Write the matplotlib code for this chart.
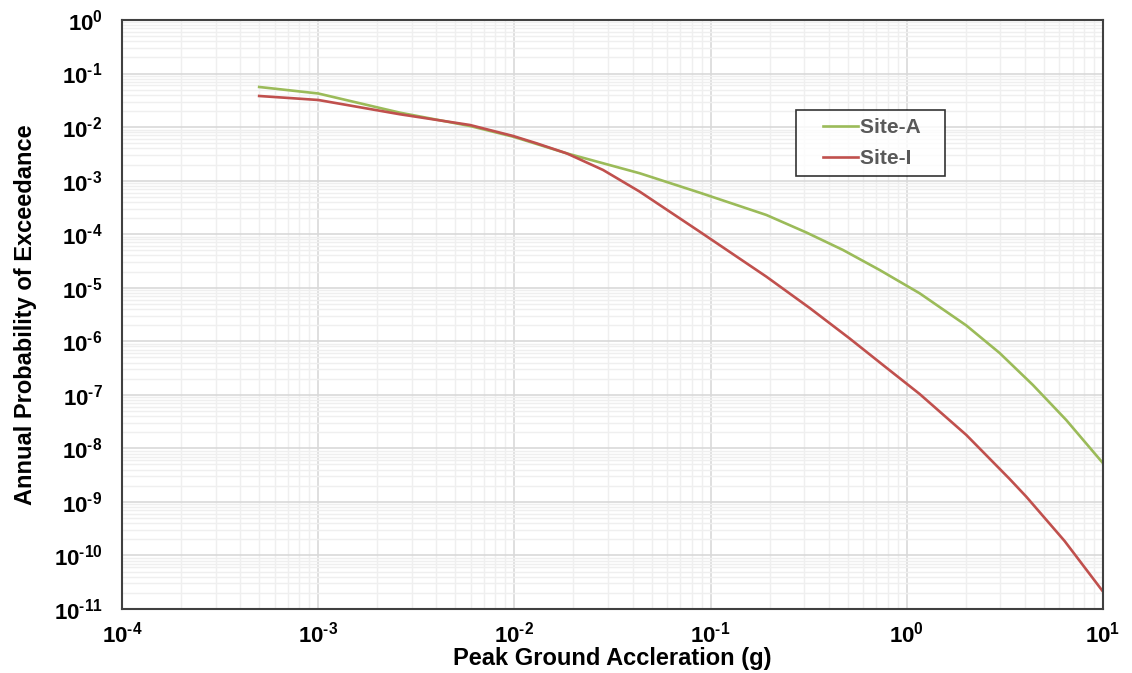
import matplotlib
matplotlib.use('Agg')
import matplotlib.pyplot as plt
from matplotlib.lines import Line2D
from matplotlib.legend_handler import HandlerLine2D
from matplotlib.ticker import LogLocator, FixedLocator

plt.rcParams['font.family'] = ['Liberation Sans', 'DejaVu Sans']
plt.rcParams['font.weight'] = 'bold'
plt.rcParams['mathtext.fontset'] = 'custom'
plt.rcParams['mathtext.rm'] = 'Liberation Sans:bold'
plt.rcParams['mathtext.default'] = 'rm'

# values
pga_a = [5e-4, 1e-3, 2.61e-3, 5.93e-3, 9.85e-3, 0.01842, 0.04353, 0.088,
         0.1924, 0.3076, 0.4726, 0.7265, 1.162, 2.01, 2.97, 4.39, 6.49, 10.0]
site_a = [0.05609, 0.0424, 0.01857, 0.01048, 0.006617, 0.003241, 0.001372,
          5.957e-4, 2.283e-4, 1.075e-4, 5.07e-5, 2.146e-5, 7.876e-6, 1.973e-6,
          6.05e-7, 1.527e-7, 3.39e-8, 5.27e-9]

pga_i = [5e-4, 1e-3, 2.61e-3, 5.93e-3, 9.85e-3, 0.01296, 0.01842, 0.0283,
         0.04353, 0.088, 0.1924, 0.3197, 0.5111, 0.7863, 1.162, 2.01, 3.341,
         4.062, 6.366, 10.0]
site_i = [0.03808, 0.03207, 0.01734, 0.01094, 0.006821, 0.004982, 0.003241,
          0.001581, 6.218e-4, 1.113e-4, 1.608e-5, 4.185e-6, 1.128e-6, 3.213e-7,
          1.037e-7, 1.779e-8, 2.683e-9, 1.253e-9, 1.866e-10, 2.11e-11]

x_exp = [-4, -3, -2, -1, 0, 1]
y_exp = [0, -1, -2, -3, -4, -5, -6, -7, -8, -9, -10, -11]


def exp_label(e):
    # hyphen instead of the math minus sign, like the original
    s = str(e).replace('-', '\u2010')
    return f'$10^{{{s}}}$'


fig = plt.figure(figsize=(11.32, 6.73), dpi=100)
ax = fig.add_axes([0.1078, 0.0951, 0.8666, 0.8752])

ax.plot(pga_a, site_a, color='#9bbb59', lw=1.9, label='Site-A')
ax.plot(pga_i, site_i, color='#c0504d', lw=1.9, label='Site-I')

ax.set_xscale('log')
ax.set_yscale('log')
ax.set_xlim(1e-4, 1e1)
ax.set_ylim(1e-11, 1e0)

ax.xaxis.set_major_locator(FixedLocator([10.0 ** e for e in x_exp]))
ax.yaxis.set_major_locator(FixedLocator([10.0 ** e for e in y_exp]))
ax.set_xticklabels([exp_label(e) for e in x_exp])
ax.set_yticklabels([exp_label(e) for e in y_exp])
ax.xaxis.set_minor_locator(LogLocator(base=10, subs=range(2, 10), numticks=50))
ax.yaxis.set_minor_locator(LogLocator(base=10, subs=range(2, 10), numticks=50))

ax.tick_params(which='both', length=0)
ax.tick_params(axis='x', labelsize=16, pad=9)
ax.tick_params(axis='y', labelsize=16, pad=14)

ax.grid(which='major', color='#d9d9d9', lw=1.2)
ax.grid(which='minor', color='#efefef', lw=1.0)
ax.set_axisbelow(True)

for s in ax.spines.values():
    s.set_color('#404040')
    s.set_linewidth(1.5)

ax.set_xlabel('Peak Ground Accleration (g)', fontsize=17, fontweight='bold', labelpad=0)
ax.set_ylabel('Annual Probability of Exceedance', fontsize=17, fontweight='bold', labelpad=12)

leg = ax.legend(loc='upper left', bbox_to_anchor=(0.687, 0.847), borderaxespad=0,
                fontsize=15, frameon=True, fancybox=False, edgecolor='black',
                handlelength=2.6, handletextpad=0.05, borderpad=0.4,
                labelspacing=0.55,
                handler_map={Line2D: HandlerLine2D(xpad=0.9)})
leg.get_frame().set_linewidth(1.2)
for t in leg.get_texts():
    t.set_color('#595959')
    t.set_fontweight('bold')
    t.set_text(t.get_text() + '   ')

plt.savefig('out.png', dpi=100)
